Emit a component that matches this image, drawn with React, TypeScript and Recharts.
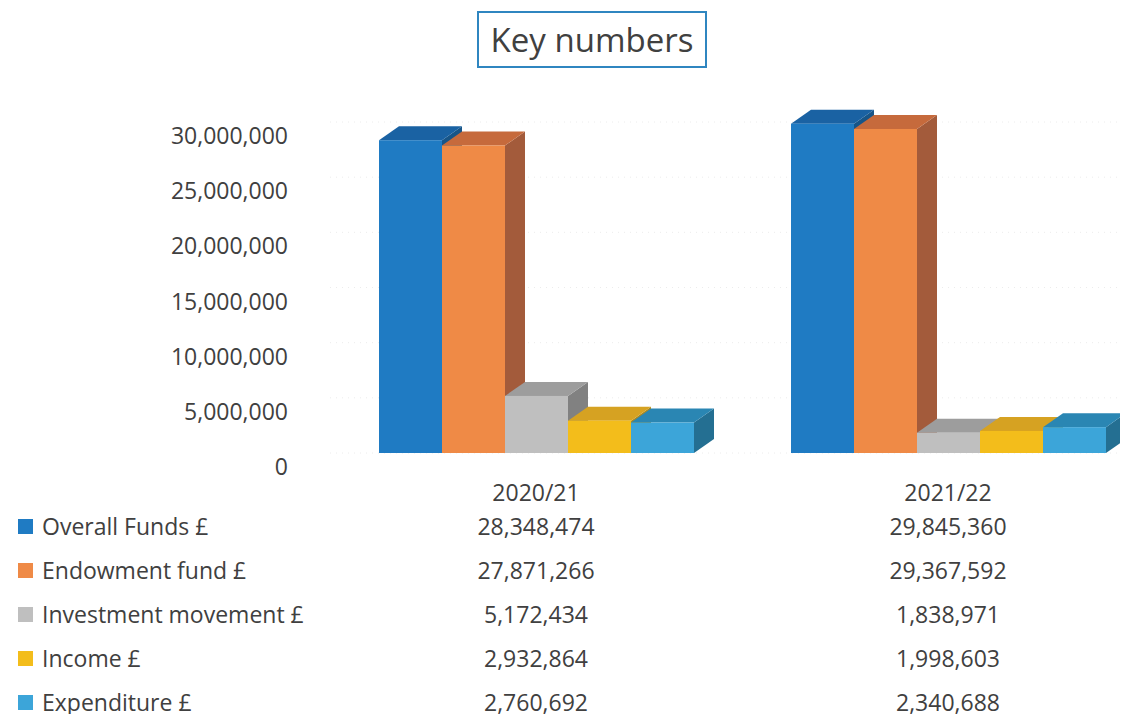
import React from 'react';
import { BarChart, Bar, XAxis, YAxis, CartesianGrid, Legend } from 'recharts';

// Values
const categories = ['2020/21', '2021/22'];
const overallFunds = [28348474, 29845360];
const endowmentFund = [27871266, 29367592];
const investmentMovement = [5172434, 1838971];
const income = [2932864, 1998603];
const expenditure = [2760692, 2340688];
const yTicks = [0, 5000000, 10000000, 15000000, 20000000, 25000000, 30000000];

const SERIES = [
  { key: 'overall', name: 'Overall Funds £', values: overallFunds, front: '#1f7bc3', top: '#1a62a3', side: '#175588' },
  { key: 'endowment', name: 'Endowment fund £', values: endowmentFund, front: '#ef8a46', top: '#c66a3c', side: '#a35b3b' },
  { key: 'investment', name: 'Investment movement £', values: investmentMovement, front: '#bfbfbf', top: '#9d9d9d', side: '#818181' },
  { key: 'income', name: 'Income £', values: income, front: '#f3bd1b', top: '#d6a222', side: '#ae8a1e' },
  { key: 'expenditure', name: 'Expenditure £', values: expenditure, front: '#3ca5d9', top: '#2a86b3', side: '#246f92' },
];

const data = categories.map((cat, i) => {
  const row: Record<string, string | number> = { cat };
  SERIES.forEach((s) => {
    row[s.key] = s.values[i];
  });
  return row;
});

const FONT = '"Open Sans", sans-serif';
const TEXT = '#404040';
const DX = 20; // depth of the 3d boxes
const DY = 14;
const ROW_H = 44;

const fmt = (n: number) => String(n).replace(/\B(?=(\d{3})+(?!\d))/g, ',');

// front face, top face and side face of a column
function Box3D(props: any) {
  const { x, y, width: w, height: h, colors } = props;
  if (w == null || h == null) return null;
  return (
    <g>
      <polygon
        points={`${x + w},${y} ${x + w + DX},${y - DY} ${x + w + DX},${y + h - DY} ${x + w},${y + h}`}
        fill={colors.side}
      />
      <polygon
        points={`${x},${y} ${x + w},${y} ${x + w + DX},${y - DY} ${x + DX},${y - DY}`}
        fill={colors.top}
      />
      <rect x={x} y={y} width={w} height={h} fill={colors.front} />
    </g>
  );
}

function YTick(props: any) {
  const { x, y, payload } = props;
  return (
    <text x={x} y={y + 13} textAnchor="end" dominantBaseline="central" fontFamily={FONT} fontSize={23} fill={TEXT}>
      {fmt(payload.value)}
    </text>
  );
}

// category label plus the data table column beneath it
function XTick(props: any) {
  const { x, y, payload } = props;
  const idx = categories.indexOf(payload.value);
  return (
    <g fontFamily={FONT} fontSize={23} fill={TEXT}>
      <text x={x} y={y + 39} textAnchor="middle" dominantBaseline="central">
        {payload.value}
      </text>
      {SERIES.map((s, i) => (
        <text key={s.key} x={x} y={y + 73 + i * ROW_H} textAnchor="middle" dominantBaseline="central">
          {fmt(s.values[idx])}
        </text>
      ))}
    </g>
  );
}

function LegendTable(props: any) {
  const order = SERIES.map((s) => s.name);
  const items = [...(props.payload || [])].sort(
    (a: any, b: any) => order.indexOf(a.value) - order.indexOf(b.value)
  );
  return (
    <div style={{ fontFamily: FONT, fontSize: 23, color: TEXT }}>
      {items.map((p: any) => (
        <div key={p.value} style={{ height: ROW_H, display: 'flex', alignItems: 'center', whiteSpace: 'nowrap' }}>
          <span style={{ width: 15, height: 15, background: p.color, display: 'inline-block', marginRight: 9 }} />
          {p.value}
        </div>
      ))}
    </div>
  );
}

export default function App() {
  return (
    <div
      style={{
        position: 'relative',
        width: 1112,
        height: 714,
        marginBottom: -8,
        overflow: 'hidden',
        background: '#fff',
      }}
    >
      <div
        style={{
          position: 'absolute',
          left: 469,
          top: 3,
          width: 226,
          height: 53,
          border: '2px solid #2f86c0',
          fontFamily: FONT,
          fontSize: 33,
          color: TEXT,
          display: 'flex',
          alignItems: 'center',
          justifyContent: 'center',
          zIndex: 2,
          background: '#fff',
        }}
      >
        Key numbers
      </div>
      <BarChart
        width={1146}
        height={714}
        data={data}
        margin={{ top: 114, right: 0, left: 280, bottom: 239 }}
        barGap={0}
        barSize={63}
      >
        <CartesianGrid vertical={false} stroke="#ececec" strokeDasharray="1 5" />
        <XAxis
          dataKey="cat"
          height={30}
          axisLine={false}
          tickLine={false}
          tickSize={0}
          tickMargin={0}
          tick={<XTick />}
          interval={0}
        />
        <YAxis
          width={42}
          domain={[0, 30000000]}
          ticks={yTicks}
          axisLine={false}
          tickLine={false}
          tickSize={0}
          tickMargin={42}
          tick={<YTick />}
          interval={0}
        />
        <Legend
          layout="horizontal"
          verticalAlign="middle"
          align="center"
          content={<LegendTable />}
          wrapperStyle={{ left: 10, top: 496, width: 320 }}
        />
        {SERIES.map((s) => (
          <Bar
            key={s.key}
            dataKey={s.key}
            name={s.name}
            fill={s.front}
            isAnimationActive={false}
            shape={(p: any) => <Box3D {...p} colors={s} />}
          />
        ))}
      </BarChart>
    </div>
  );
}
